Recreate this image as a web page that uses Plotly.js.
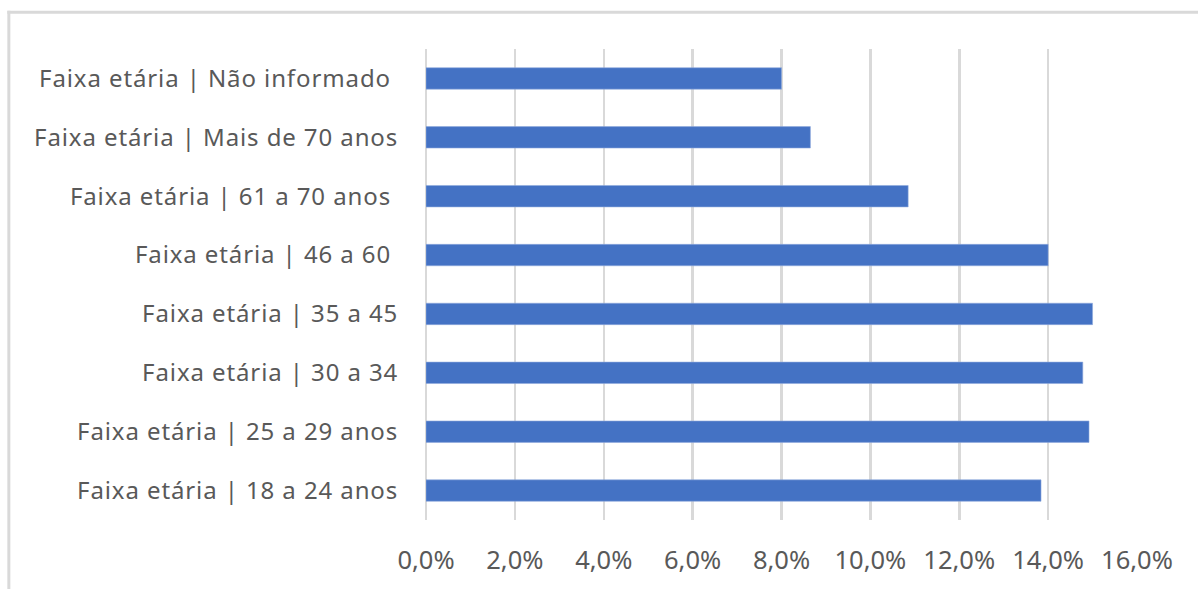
<!DOCTYPE html>
<html>
<head>
<meta charset="utf-8">
<script src="https://cdn.plot.ly/plotly-3.0.1.min.js"></script>
<style>
  html, body { margin: 0; padding: 0; background: #ffffff; }
  #chart { width: 1198px; height: 589px; }
  .ytick text { letter-spacing: 0.9px; }
</style>
</head>
<body>
<div id="chart"></div>
<script>
// Categories listed top to bottom as shown in the chart
const categories = [
  "Faixa etária | Não informado\u00a0",
  "Faixa etária | Mais de 70 anos",
  "Faixa etária | 61 a 70 anos\u00a0",
  "Faixa etária | 46 a 60\u00a0",
  "Faixa etária | 35 a 45",
  "Faixa etária | 30 a 34",
  "Faixa etária | 25 a 29 anos",
  "Faixa etária | 18 a 24 anos"
];
// Share of respondents (%)
const shares = [8.0, 8.65, 10.85, 14.0, 15.0, 14.78, 14.92, 13.84];
const xTicks = [0, 2, 4, 6, 8, 10, 12, 14, 16];
const xTickLabels = ["0,0%", "2,0%", "4,0%", "6,0%", "8,0%", "10,0%", "12,0%", "14,0%", "16,0%"];

const W = 1198, H = 589;
const L = 426.3, R = 1136.7, T = 49.3, B = 520;
const pw = R - L, ph = B - T;
const px = v => (v - L) / pw;
const py = v => (B - v) / ph;

const trace = {
  type: 'bar',
  orientation: 'h',
  x: shares,
  y: categories,
  marker: { color: '#4472c4', line: { color: '#8fa9dc', width: 0.6 } },
  hoverinfo: 'x+y'
};

const layout = {
  width: W,
  height: H,
  margin: { l: L, r: W - R, t: T, b: H - B, pad: 0 },
  paper_bgcolor: '#ffffff',
  plot_bgcolor: '#ffffff',
  separators: ',.',
  showlegend: false,
  bargap: 0.636,
  font: { family: 'Noto Sans, Open Sans, sans-serif', color: '#595959' },
  xaxis: {
    range: [0, 16],
    tickvals: xTicks,
    ticktext: xTickLabels,
    showgrid: true,
    gridcolor: '#d9d9d9',
    gridwidth: 2.5,
    zeroline: true,
    zerolinecolor: '#d9d9d9',
    zerolinewidth: 2.5,
    showline: false,
    ticks: 'outside',
    ticklen: 17,
    tickcolor: 'rgba(0,0,0,0)',
    tickfont: { family: 'Noto Sans, sans-serif', size: 25.5, color: '#595959' },
    fixedrange: true
  },
  yaxis: {
    type: 'category',
    autorange: 'reversed',
    showgrid: false,
    zeroline: false,
    showline: false,
    ticks: 'outside',
    ticklen: 22,
    tickcolor: 'rgba(0,0,0,0)',
    tickfont: { family: 'Noto Sans, sans-serif', size: 24, color: '#595959' },
    fixedrange: true
  },
  shapes: [
    { type: 'line', xref: 'paper', yref: 'paper',
      x0: px(8), x1: px(1210), y0: py(12.5), y1: py(12.5),
      line: { color: '#d9d9d9', width: 3 } },
    { type: 'line', xref: 'paper', yref: 'paper',
      x0: px(9.5), x1: px(9.5), y0: py(11), y1: py(600),
      line: { color: '#d9d9d9', width: 3 } }
  ]
};

Plotly.newPlot('chart', [trace], layout, { displayModeBar: false, staticPlot: true });
</script>
</body>
</html>
